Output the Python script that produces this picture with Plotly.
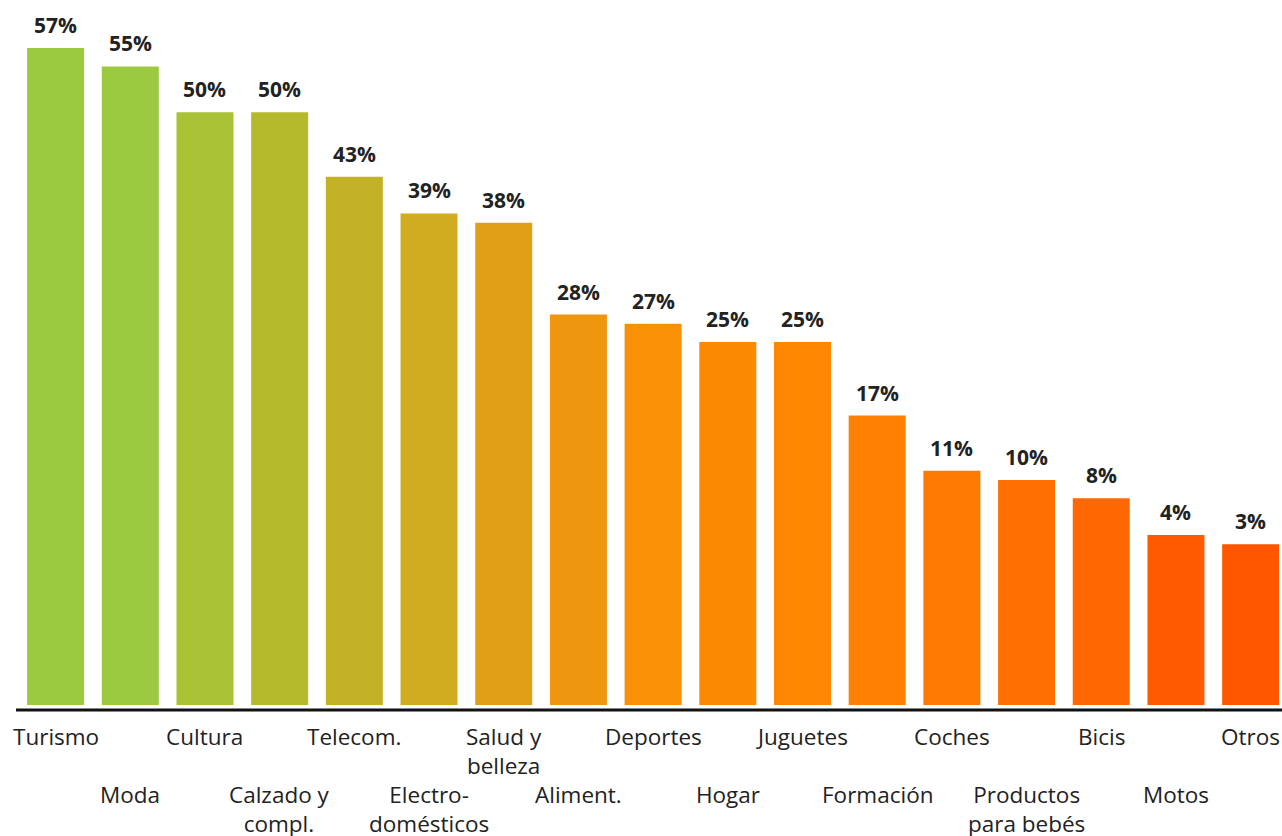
import plotly.graph_objects as go

categories = ["Turismo", "Moda", "Cultura", "Calzado y<br>compl.", "Telecom.",
              "Electro-<br>domésticos", "Salud y<br>belleza", "Aliment.", "Deportes",
              "Hogar", "Juguetes", "Formación", "Coches", "Productos<br>para bebés",
              "Bicis", "Motos", "Otros"]
values = [57, 55, 50, 50, 43, 39, 38, 28, 27, 25, 25, 17, 11, 10, 8, 4, 3]
colors = ["#9BC93F", "#9BC93F", "#A9C135", "#B5BA2D", "#C3B226", "#D1AB20",
          "#E09F17", "#EE960E", "#FA9005", "#FB8A00", "#FE8600", "#FF8003",
          "#FF7A00", "#FF6F02", "#FF6703", "#FF5A00", "#FF5700"]

OFFSET = 14.5  # bars start below zero on the value scale
FONT = "Open Sans"
x = list(range(len(categories)))

fig = go.Figure()
fig.add_trace(go.Bar(
    x=x, y=[v + OFFSET for v in values], base=-OFFSET,
    marker=dict(color=colors, line=dict(width=0)),
    hoverinfo="skip",
))

for i, v in enumerate(values):
    fig.add_annotation(x=i, y=v, text=f"<b>{v}%</b>", showarrow=False,
                       xref="x", yref="y", yanchor="bottom", yshift=7,
                       font=dict(family=FONT, size=21, color="#222222"))

for i, c in enumerate(categories):
    fig.add_annotation(x=i, y=0, text=c, showarrow=False,
                       xref="x", yref="paper", yanchor="top",
                       yshift=-5 if i % 2 == 0 else -63,
                       font=dict(family=FONT, size=22.5, color="#222222"))

fig.add_shape(type="line", xref="paper", yref="y", x0=0, x1=1,
              y0=-OFFSET - 0.55, y1=-OFFSET - 0.55,
              line=dict(color="#111111", width=3))

fig.update_layout(
    width=1282, height=836,
    margin=dict(l=16, r=0, t=0, b=122),
    paper_bgcolor="white", plot_bgcolor="white",
    bargap=0.237, showlegend=False, hovermode=False,
    xaxis=dict(range=[-0.53, 16.42], showticklabels=False, showgrid=False,
               zeroline=False, showline=False, ticks=""),
    yaxis=dict(range=[-15.48, 62.23], showticklabels=False, showgrid=False,
               zeroline=False, showline=False, ticks=""),
)

fig.write_html("out.html", config={"displayModeBar": False},
               post_script="document.body.style.margin='0';document.body.style.overflow='hidden';")
